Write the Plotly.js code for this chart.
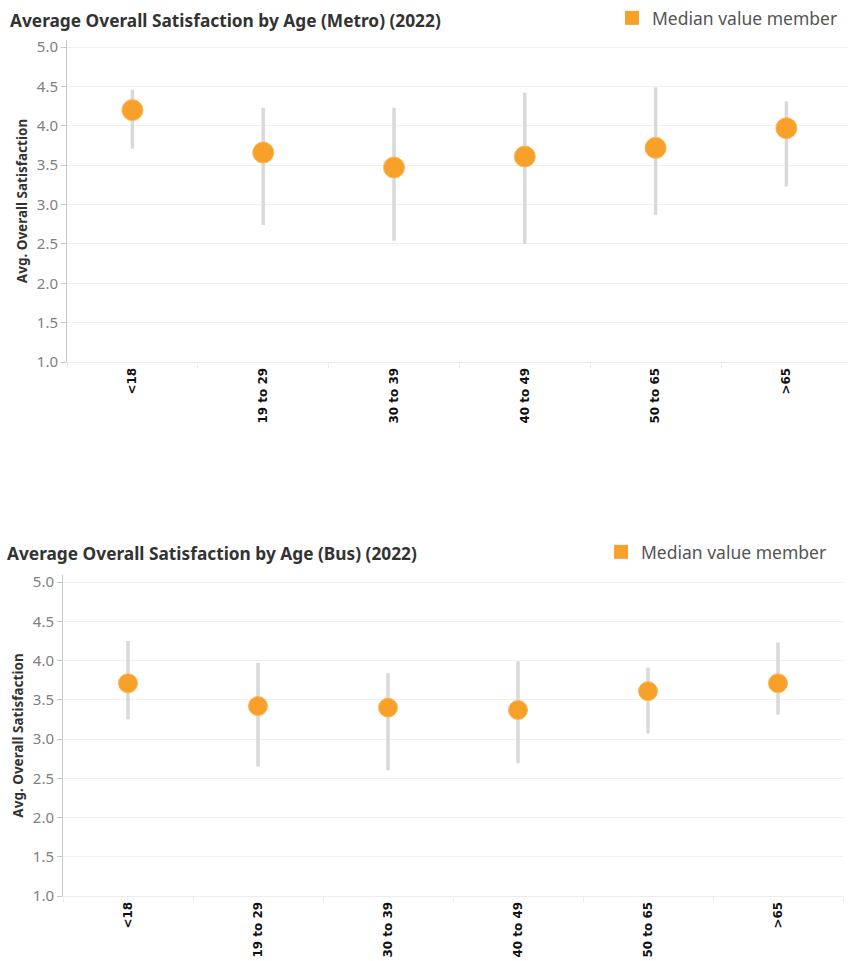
<!DOCTYPE html>
<html>
<head>
<meta charset="utf-8">
<script src="https://cdn.plot.ly/plotly-3.0.1.min.js"></script>
<style>
  html, body { margin: 0; padding: 0; background: #fff; }
  #chart { width: 848px; height: 961px; }
</style>
</head>
<body>
<div id="chart"></div>
<script>
// ---- Data ----
const categories = ['<18', '19 to 29', '30 to 39', '40 to 49', '50 to 65', '>65'];

const metroMedian = [4.20, 3.66, 3.47, 3.61, 3.72, 3.97];
const metroLow    = [3.71, 2.74, 2.54, 2.50, 2.87, 3.23];
const metroHigh   = [4.46, 4.23, 4.23, 4.42, 4.49, 4.31];

const busMedian = [3.71, 3.42, 3.40, 3.37, 3.61, 3.71];
const busLow    = [3.25, 2.65, 2.60, 2.69, 3.07, 3.31];
const busHigh   = [4.25, 3.97, 3.84, 3.99, 3.91, 4.23];

const yTicks = [1.0, 1.5, 2.0, 2.5, 3.0, 3.5, 4.0, 4.5, 5.0];

const titleMetro = 'Average Overall Satisfaction by Age (Metro) (2022)';
const titleBus = 'Average Overall Satisfaction by Age (Bus) (2022)';
const yTitle = 'Avg. Overall Satisfaction';
const legendLabel = 'Median value member';

// ---- Styles ----
const ORANGE = '#F7A12B';
const RANGE_GREY = '#d9d9d9';
const W = 848, H = 961;

function rangeSegments(cats, lo, hi) {
  const xs = [], ys = [];
  cats.forEach((c, i) => { xs.push(c, c, null); ys.push(lo[i], hi[i], null); });
  return { xs, ys };
}

const mSeg = rangeSegments(categories, metroLow, metroHigh);
const bSeg = rangeSegments(categories, busLow, busHigh);

const traces = [
  { type: 'scatter', mode: 'lines', x: mSeg.xs, y: mSeg.ys, xaxis: 'x', yaxis: 'y',
    line: { color: RANGE_GREY, width: 3.5 }, showlegend: false, hoverinfo: 'skip' },
  { type: 'scatter', mode: 'markers', x: categories, y: metroMedian, xaxis: 'x', yaxis: 'y',
    marker: { color: ORANGE, size: 21, line: { color: '#fbb755', width: 1 } }, showlegend: false },
  { type: 'scatter', mode: 'markers', x: [null], y: [null], xaxis: 'x', yaxis: 'y',
    name: legendLabel, legend: 'legend',
    marker: { color: ORANGE, size: 14, symbol: 'square' }, showlegend: true },

  { type: 'scatter', mode: 'lines', x: bSeg.xs, y: bSeg.ys, xaxis: 'x2', yaxis: 'y2',
    line: { color: RANGE_GREY, width: 3.5 }, showlegend: false, hoverinfo: 'skip' },
  { type: 'scatter', mode: 'markers', x: categories, y: busMedian, xaxis: 'x2', yaxis: 'y2',
    marker: { color: ORANGE, size: 19, line: { color: '#fbb755', width: 1 } }, showlegend: false },
  { type: 'scatter', mode: 'markers', x: [null], y: [null], xaxis: 'x2', yaxis: 'y2',
    name: legendLabel, legend: 'legend2',
    marker: { color: ORANGE, size: 14, symbol: 'square' }, showlegend: true }
];

const tickFont = { family: 'Noto Sans, Open Sans, sans-serif', size: 15, color: '#808080' };
const xTickFont = { family: 'DejaVu Sans, sans-serif', size: 12, color: '#111', weight: 'bold' };

function yAxis(domain, anchor) {
  return {
    domain: domain, anchor: anchor, range: [1, 5.09],
    tickvals: yTicks, tickformat: '.1f', tickfont: tickFont,
    ticks: 'outside', ticklen: 5, tickcolor: '#c8c8c8', tickwidth: 1,
    showline: true, linecolor: '#c8c8c8', linewidth: 1,
    showgrid: true, gridcolor: '#f0f0f0', gridwidth: 1, zeroline: false,
    automargin: false, fixedrange: true,
    title: { text: yTitle, standoff: 6,
             font: { family: 'Noto Sans, Open Sans, sans-serif', size: 13.5, color: '#333', weight: 'bold' } }
  };
}
function xAxis(domain, anchor, rangeMax) {
  return {
    domain: domain, anchor: anchor, type: 'category',
    categoryorder: 'array', categoryarray: categories,
    range: [-0.5, rangeMax],
    tickangle: -90, tickfont: xTickFont,
    ticks: 'outside', tickson: 'boundaries', ticklen: 5, tickcolor: '#ececec',
    showline: true, linecolor: '#ececec', linewidth: 1,
    showgrid: false, zeroline: false, automargin: false, fixedrange: true
  };
}

const legendFont = { family: 'Noto Sans, Open Sans, sans-serif', size: 17.5, color: '#555' };

const layout = {
  width: W, height: H,
  margin: { l: 0, r: 0, t: 0, b: 0 },
  paper_bgcolor: '#fff', plot_bgcolor: '#fff',
  font: { family: 'Noto Sans, Open Sans, sans-serif' },
  xaxis: xAxis([67 / W, 1], 'y', -0.5 + 781 / 130.8),
  yaxis: yAxis([1 - 362 / H, 1 - 40 / H], 'x'),
  xaxis2: xAxis([63 / W, 843 / W], 'y2', 5.5),
  yaxis2: yAxis([1 - 896 / H, 1 - 575 / H], 'x2'),
  legend: {
    x: 612 / W, y: 1 - 0 / H, xanchor: 'left', yanchor: 'top',
    bgcolor: 'rgba(0,0,0,0)', borderwidth: 0, font: legendFont
  },
  legend2: {
    x: 601 / W, y: 1 - 534 / H, xanchor: 'left', yanchor: 'top',
    bgcolor: 'rgba(0,0,0,0)', borderwidth: 0, font: legendFont
  },
  annotations: [
    { text: titleMetro, xref: 'paper', yref: 'paper', x: 8 / W, y: 1 - 20 / H,
      xanchor: 'left', yanchor: 'middle', showarrow: false,
      font: { family: 'Noto Sans, Open Sans, sans-serif', size: 17.3, color: '#333', weight: 'bold' } },
    { text: titleBus, xref: 'paper', yref: 'paper', x: 5 / W, y: 1 - 553 / H,
      xanchor: 'left', yanchor: 'middle', showarrow: false,
      font: { family: 'Noto Sans, Open Sans, sans-serif', size: 17.3, color: '#333', weight: 'bold' } }
  ],
  showlegend: true
};

Plotly.newPlot('chart', traces, layout, { displayModeBar: false, staticPlot: true });
</script>
</body>
</html>
